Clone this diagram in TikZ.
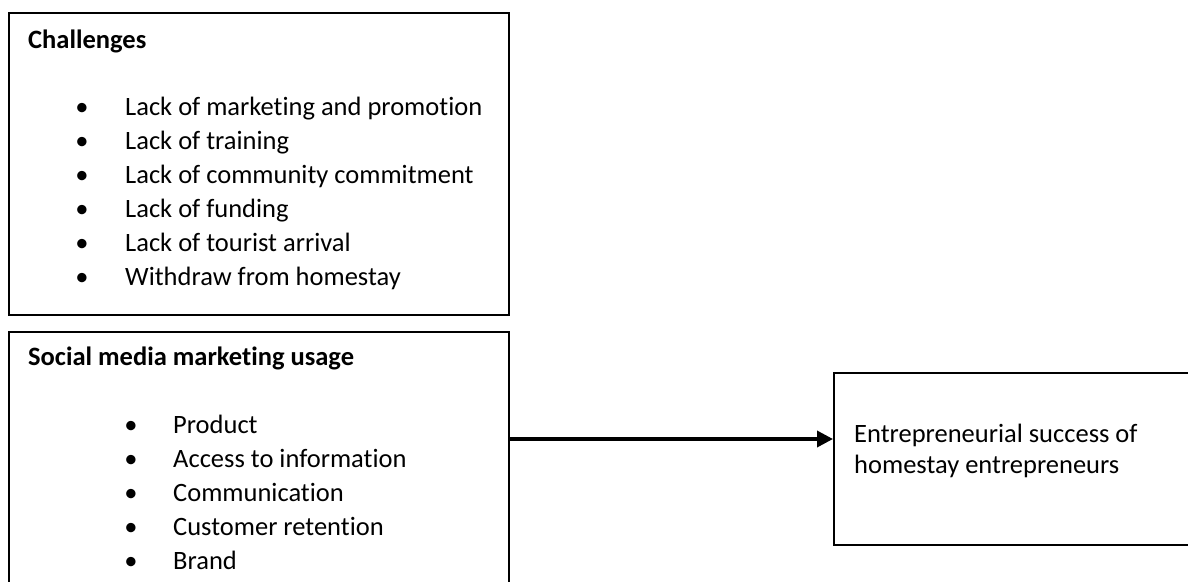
\documentclass[tikz,border=0pt]{standalone}
\usepackage{fontspec}
\setmainfont{Carlito}[Ligatures=NoCommon]
\usetikzlibrary{arrows.meta}

\newcommand{\diagfont}{\fontsize{26.5}{31}\selectfont}
\tikzset{
  box/.style={draw, line width=1.8pt, anchor=north west, inner sep=0pt},
  head/.style={anchor=base west, inner sep=0pt, font=\diagfont\bfseries},
  item/.style={anchor=base west, inner sep=0pt, font=\diagfont},
  dot/.style={anchor=base, inner sep=0pt, font=\diagfont},
  flow/.style={line width=3.5pt, -{Triangle[length=16pt,width=16pt]}}
}

\begin{document}
\begin{tikzpicture}[x=1pt, y=-1pt]
        \useasboundingbox (0,0) rectangle (1188,581);
        \clip (0,0) rectangle (1188,581);
        % the three boxes
        \node[box, minimum width=500pt, minimum height=302pt] (chal) at (8,12) {};
        \node[box, minimum width=500pt, minimum height=300pt] (smm) at (8,331) {};
        \node[box, minimum width=400pt, minimum height=172pt] (succ) at (833,372) {};
        % challenges
        \node[head] (chalhead) at (28,48) {Challenges};
        \foreach \t [count=\i from 0] in {Lack of marketing and promotion, Lack of training,
            Lack of community commitment, Lack of funding, Lack of tourist arrival, Withdraw from homestay}{
            \node[dot] (chaldot-\i) at (82,115+34*\i) {\textbullet};
            \node[item] (chalitem-\i) at (125,115+34*\i) {\t};
        }
        % social media marketing usage
        \node[head] (smmhead) at (28,365) {Social media marketing usage};
        \foreach \t [count=\i from 0] in {Product, Access to information, Communication,
            Customer retention, Brand}{
            \node[dot] (smmdot-\i) at (131,433+34*\i) {\textbullet};
            \node[item] (smmitem-\i) at (173,433+34*\i) {\t};
        }
        % outcome
        \node[item] (succtext1) at (854,442) {Entrepreneurial success of};
        \node[item] (succtext2) at (854,473) {homestay entrepreneurs};
        \coordinate (arr) at (0,439);
        \draw[flow] (smm.east |- arr) -- (succ.west |- arr);
    \end{tikzpicture}
\end{document}
